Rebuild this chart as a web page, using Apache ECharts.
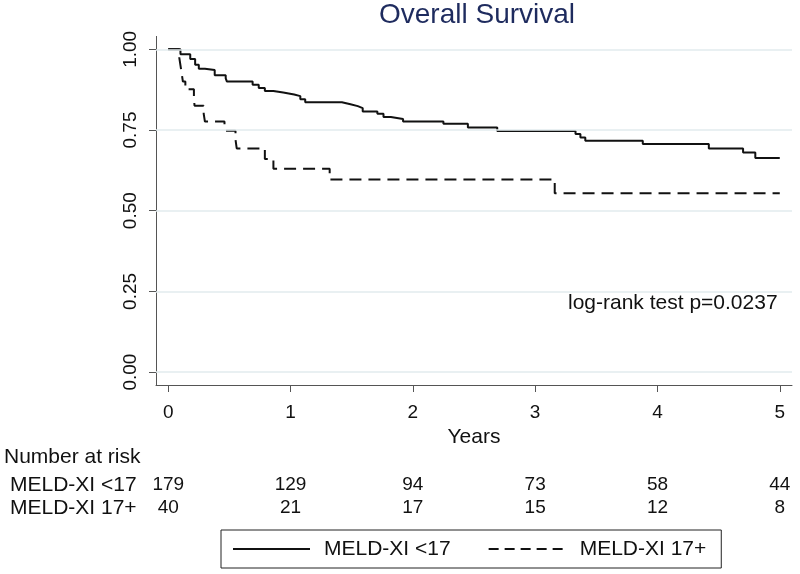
<!DOCTYPE html>
<html>
<head>
<meta charset="utf-8">
<script src="https://cdn.jsdelivr.net/npm/echarts@6/dist/echarts.min.js"></script>
<style>html,body{margin:0;padding:0;background:#fff}#c{width:800px;height:574px}</style>
</head>
<body>
<div id="c"></div>
<script>
// ---- data ----
const groupNames = ['MELD-XI <17', 'MELD-XI 17+'];
const lowTimes = [0, 0.10, 0.18, 0.22, 0.25, 0.30, 0.38, 0.47, 0.48, 0.69, 0.74, 0.79, 0.86, 0.94, 1.03, 1.08, 1.12, 1.42, 1.49, 1.55, 1.59, 1.71, 1.76, 1.82, 1.92, 2.25, 2.45, 2.69, 3.33, 3.37, 3.41, 3.88, 4.42, 4.70, 4.80, 5.00];
const lowSurv = [1.0, 0.985, 0.97, 0.952, 0.94, 0.936, 0.92, 0.91, 0.90, 0.89, 0.88, 0.871, 0.866, 0.86, 0.855, 0.845, 0.836, 0.83, 0.824, 0.818, 0.807, 0.80, 0.79, 0.784, 0.776, 0.769, 0.758, 0.747, 0.738, 0.727, 0.717, 0.707, 0.693, 0.68, 0.663, 0.663];
const highTimes = [0, 0.09, 0.10, 0.11, 0.12, 0.14, 0.21, 0.215, 0.29, 0.30, 0.46, 0.47, 0.55, 0.56, 0.79, 0.86, 1.32, 3.16, 5.00];
const highSurv = [1.0, 0.975, 0.95, 0.925, 0.9, 0.876, 0.85, 0.825, 0.8, 0.776, 0.76, 0.748, 0.72, 0.693, 0.66, 0.63, 0.597, 0.554, 0.554];
const xTicks = [0, 1, 2, 3, 4, 5];
const yTicks = [0, 0.25, 0.5, 0.75, 1.0];
const riskTimes = [0, 1, 2, 3, 4, 5];
const riskLow = [179, 129, 94, 73, 58, 44];
const riskHigh = [40, 21, 17, 15, 12, 8];
const pText = 'log-rank test p=0.0237';

// ---- chart ----
const FONT = "'Liberation Sans', Arial, sans-serif";
const chart = echarts.init(document.getElementById('c'), null, {renderer: 'canvas'});
const pair = (xs, ys) => xs.map((x, i) => [x, ys[i]]);
const riskData = [];
riskTimes.forEach((t, i) => {
  riskData.push([t, groupNames[0], riskLow[i]]);
  riskData.push([t, groupNames[1], riskHigh[i]]);
});

chart.setOption({
  backgroundColor: '#fff',
  animation: false,
  textStyle: {fontFamily: FONT},
  title: [
    {text: 'Overall Survival', left: 379, top: 1, padding: 0,
     textStyle: {fontFamily: FONT, fontSize: 28, fontWeight: 'normal', color: '#1e2b5e', lineHeight: 28}},
    {text: 'Number at risk', left: 4, top: 446.5, padding: 0,
     textStyle: {fontFamily: FONT, fontSize: 21, fontWeight: 'normal', color: '#111', lineHeight: 21}},
    {text: pText, left: 568, top: 292.5, padding: 0,
     textStyle: {fontFamily: FONT, fontSize: 21, fontWeight: 'normal', color: '#111', lineHeight: 21}}
  ],
  grid: [
    {left: 156, width: 636, top: 36.4, height: 348.6},
    {left: 156, width: 636, top: 473.5, height: 46}
  ],
  xAxis: [
    {type: 'value', gridIndex: 0, min: -0.1, max: 5.1,
     name: 'Years', nameLocation: 'middle', nameGap: 36.5,
     nameTextStyle: {fontFamily: FONT, fontSize: 21, color: '#111'},
     axisLine: {show: true, onZero: false, lineStyle: {color: '#555', width: 1}},
     axisTick: {show: true, length: 7, customValues: xTicks, lineStyle: {color: '#555'}},
     axisLabel: {customValues: xTicks, fontFamily: FONT, fontSize: 19, color: '#111', margin: 18},
     splitLine: {show: false}},
    {type: 'value', gridIndex: 1, min: -0.1, max: 5.1, show: false}
  ],
  yAxis: [
    {type: 'value', gridIndex: 0, min: -0.04, max: 1.04,
     axisLine: {show: true, onZero: false, lineStyle: {color: '#555', width: 1}},
     axisTick: {show: true, length: 7, customValues: yTicks, lineStyle: {color: '#555'}},
     axisLabel: {customValues: yTicks, rotate: 90, fontFamily: FONT, fontSize: 19, color: '#111', margin: 16,
                 formatter: v => v.toFixed(2)},
     splitLine: {show: false}},
    {type: 'category', gridIndex: 1, data: groupNames, inverse: true,
     axisLine: {show: false}, axisTick: {show: false}, splitLine: {show: false},
     axisLabel: {interval: 0, align: 'left', margin: 146, fontFamily: FONT, fontSize: 21, color: '#111'}}
  ],
  legend: {
    data: [
      {name: groupNames[0]},
      {name: groupNames[1], lineStyle: {type: [10, 6]}}
    ],
    left: 221, top: 530, orient: 'horizontal',
    borderColor: '#222', borderWidth: 1, borderRadius: 0, padding: [8.5, 15, 8.5, 11],
    itemWidth: 77, itemHeight: 14, itemGap: 37,
    itemStyle: {opacity: 0},
    textStyle: {fontFamily: FONT, fontSize: 21, color: '#111', padding: [0, 0, 0, 9]}
  },
  series: [
    {name: 'grid', type: 'line', data: [], xAxisIndex: 0, yAxisIndex: 0, z: 1, silent: true,
     markLine: {silent: true, symbol: 'none', label: {show: false},
       lineStyle: {color: '#e2ebee', width: 1.5, type: 'solid'},
       data: yTicks.map(v => ({yAxis: v}))}},
    {name: groupNames[0], type: 'line', step: 'end', symbol: 'none', z: 3,
     xAxisIndex: 0, yAxisIndex: 0,
     lineStyle: {color: '#111', width: 2, type: 'solid'}, itemStyle: {color: '#111'},
     data: pair(lowTimes, lowSurv)},
    {name: groupNames[1], type: 'line', step: 'end', symbol: 'none', z: 3,
     xAxisIndex: 0, yAxisIndex: 0,
     lineStyle: {color: '#111', width: 2, type: [12, 7]}, itemStyle: {color: '#111'},
     data: pair(highTimes, highSurv)},
    {name: 'risk', type: 'scatter', xAxisIndex: 1, yAxisIndex: 1, symbolSize: 0, silent: true,
     itemStyle: {opacity: 1, color: '#111'},
     data: riskData,
     label: {show: true, position: 'inside', formatter: p => String(p.value[2]),
             fontFamily: FONT, fontSize: 19, color: '#111', opacity: 1}}
  ]
});
</script>
</body>
</html>
